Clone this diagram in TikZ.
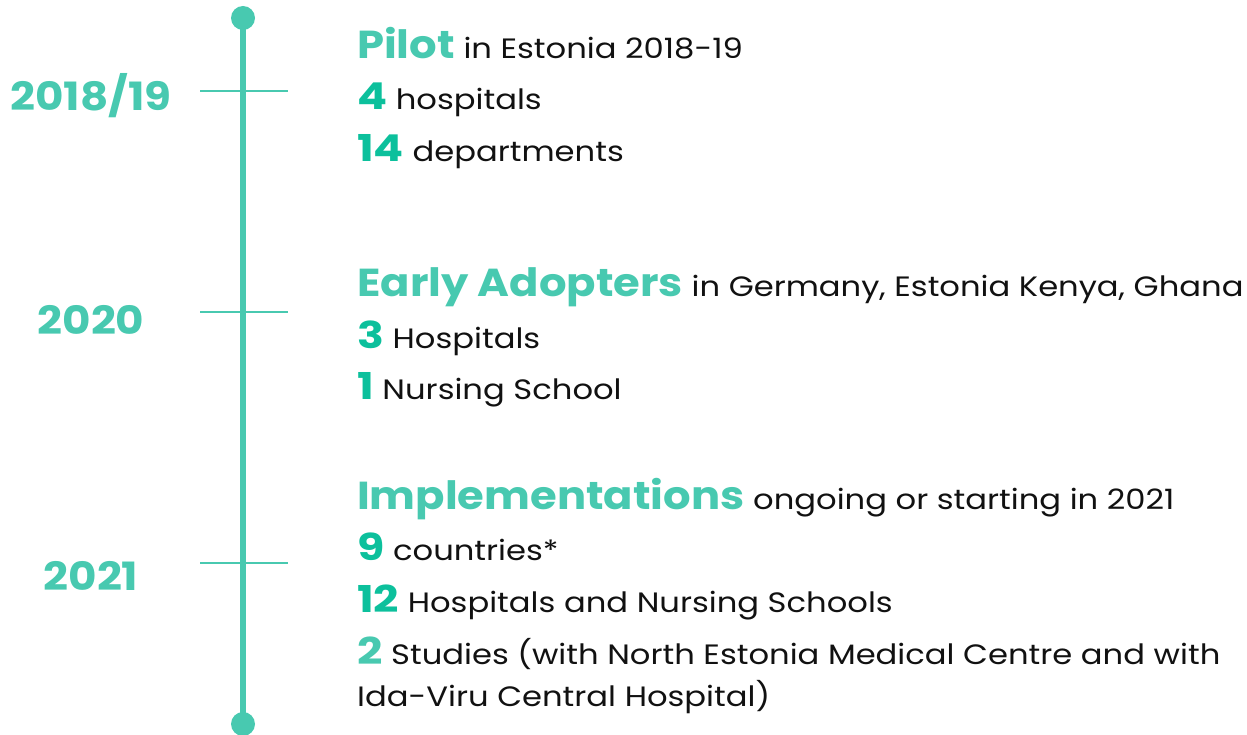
\documentclass[tikz,border=0pt]{standalone}
\usepackage{fontspec}
\setmainfont{Poppins}[FakeStretch=1.15]
\newfontfamily\hdfont{Poppins}[FakeStretch=1.11]
\newfontfamily\nmfont{Poppins}[FakeStretch=1.2]
\newfontfamily\yrfont{Poppins}[FakeStretch=1.12]
\definecolor{tealA}{HTML}{48C9B0}
\definecolor{tealB}{HTML}{0CC09C}
\definecolor{txt}{HTML}{111111}
\newcommand{\hd}[1]{{\hdfont\fontsize{39}{40}\selectfont\bfseries\color{tealA}#1}}
\newcommand{\nm}[1]{{\nmfont\fontsize{37}{40}\selectfont\bfseries\color{tealB}#1}}
\newcommand{\nmA}[1]{{\nmfont\fontsize{37}{40}\selectfont\bfseries\color{tealA}#1}}
\begin{document}
\begin{tikzpicture}[x=1pt,y=-1pt,
  year/.style={font=\yrfont\fontsize{39}{40}\selectfont\bfseries, text=tealA, anchor=center, inner sep=0},
  line/.style={anchor=base west, inner sep=0, font=\fontsize{28}{30}\selectfont, text=txt},
  tick/.style={draw=tealA, line width=1.6pt},
  axis/.style={draw=tealA, line width=6pt}]
\useasboundingbox (0,0) rectangle (1247,735);
% axis
\coordinate (top) at (243,18);
\coordinate (bot) at (243,724);
\draw[axis] (top) -- (bot);
\fill[tealA] (top) circle (12);
\fill[tealA] (bot) circle (12);
% ticks
\coordinate (t1a) at (200,91); \coordinate (t1b) at (288,91);
\coordinate (t2a) at (200,312); \coordinate (t2b) at (288,312);
\coordinate (t3a) at (200,563); \coordinate (t3b) at (288,563);
\draw[tick] (t1a) -- (t1b);
\draw[tick] (t2a) -- (t2b);
\draw[tick] (t3a) -- (t3b);
% years
\node[year] (y1) at (91,96) {2018/19};
\node[year] (y2) at (91,320) {2020};
\node[year] (y3) at (91,576) {2021};
% block 1
\node[line] (p1) at (357,59) {\hd{Pilot} in Estonia 2018-19};
\node[line] (p2) at (357,110) {\nm{4} hospitals};
\node[line] (p3) at (357,162) {\nm{14} departments};
% block 2
\node[line] (e1) at (357,296) {\hd{Early Adopters} in Germany, Estonia Kenya, Ghana};
\node[line] (e2) at (357,348) {\nm{3} Hospitals};
\node[line] (e3) at (357,399) {\nm{1} Nursing School};
% block 3
\node[line] (i1) at (357,509) {\hd{Implementations} ongoing or starting in 2021};
\node[line] (i2) at (357,560) {\nm{9} countries*};
\node[line] (i3) at (357,612) {\nm{12} Hospitals and Nursing Schools};
\node[line] (i4) at (357,664) {\nmA{2} Studies (with North Estonia Medical Centre and with};
\node[line] (i5) at (357,706) {Ida-Viru Central Hospital)};
\end{tikzpicture}
\end{document}
